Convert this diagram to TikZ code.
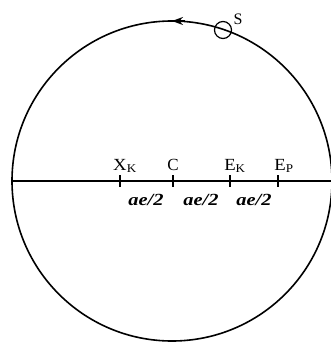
\documentclass[tikz,border=0pt]{standalone}
\usepackage{graphicx}
\usepackage{fontspec}
\setmainfont{Liberation Serif}
\usetikzlibrary{arrows.meta}
\newcommand{\widetext}[2]{\scalebox{#1}[1]{#2}}
\begin{document}
\begin{tikzpicture}[x=1pt,y=-1pt,
  orbit/.style={line width=1.6pt},
  tickmark/.style={line width=1.4pt},
  ptlabel/.style={font=\fontsize{17}{17}\selectfont, anchor=base, inner sep=0pt},
  dist/.style={font=\fontsize{17}{17}\selectfont\bfseries\itshape, anchor=base, inner sep=0pt}]
\useasboundingbox (0,0) rectangle (331,345);
\coordinate (O) at (172,181);
\draw[orbit] (O) circle (160);
% arrow on top of orbit, pointing left
\draw[-{Stealth[length=11pt,width=8pt]}, line width=1.3pt] (185,21) -- (172,21);
% axis line
\coordinate (L) at (11,181);
\coordinate (R) at (331,181);
\draw[orbit] (L) -- (R);
% ticks
\foreach \n/\x in {xk/120, c/173, ek/230, ep/278}{
  \coordinate (\n) at (\x,181);
  \draw[tickmark] (\x,175) -- (\x,187);
}
\node[ptlabel] (lxk) at (125,170) {\widetext{1.1}{X\textsubscript{K}}};
\node[ptlabel] (lc) at (173,170) {C};
\node[ptlabel] (lek) at (235,170) {\widetext{1.1}{E\textsubscript{K}}};
\node[ptlabel] (lep) at (284,170) {\widetext{1.1}{E\textsubscript{P}}};
\node[dist] (d1) at (146,205) {\widetext{1.2}{ae/2}};
\node[dist] (d2) at (201,205) {\widetext{1.2}{ae/2}};
\node[dist] (d3) at (254,205) {\widetext{1.2}{ae/2}};
% satellite S
\node[draw, circle, line width=1.2pt, minimum size=17pt, inner sep=0pt] (s) at (223,30) {};
\node[font=\fontsize{16}{16}\selectfont, inner sep=0pt] (sl) at (238,19) {S};
\end{tikzpicture}
\end{document}
